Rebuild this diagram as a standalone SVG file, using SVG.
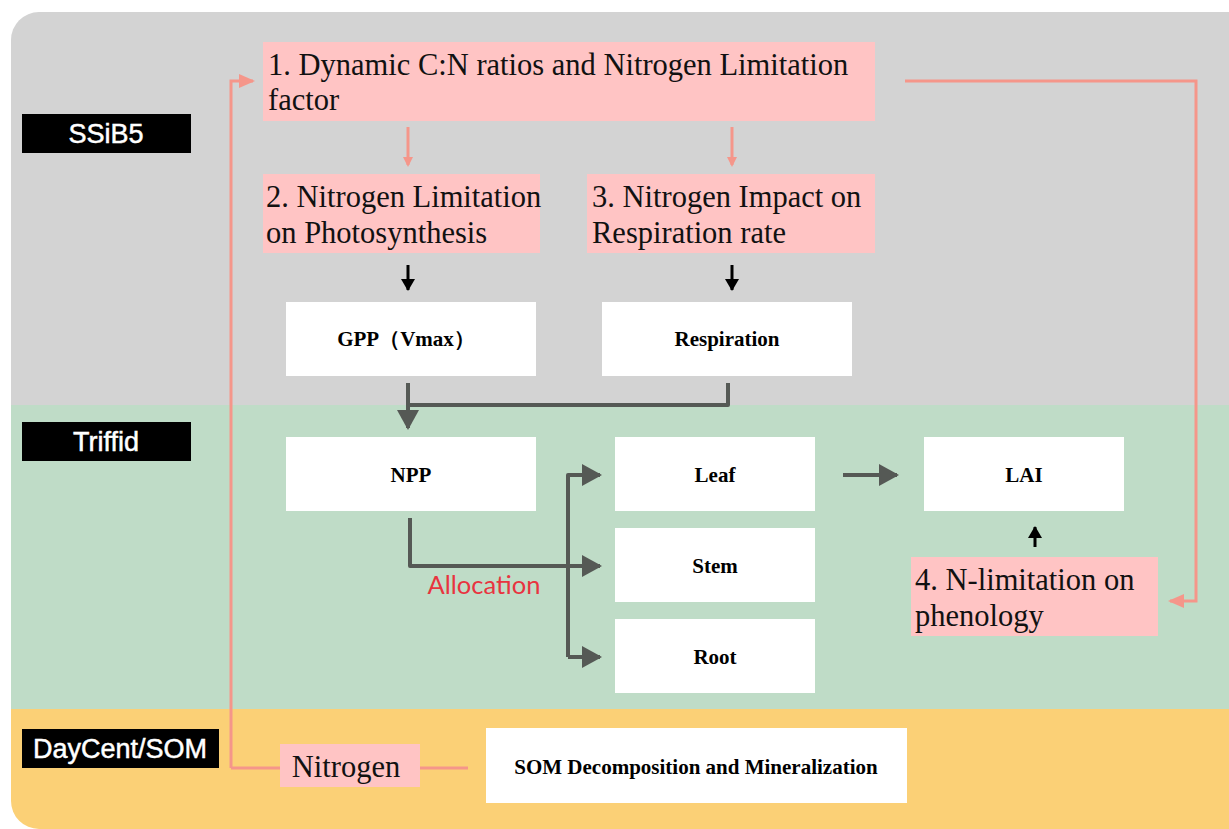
<svg xmlns="http://www.w3.org/2000/svg" width="1229" height="829" viewBox="0 0 1229 829">
<style>
.lab{fill:#000}
.labt{fill:#fff;stroke:#fff;stroke-width:0.5;font-family:"Liberation Sans",Arial,sans-serif;font-size:27px;text-anchor:middle}
.pk{fill:#ffc4c4}
.pkt{font-family:"Liberation Serif","Times New Roman",serif;font-size:30.5px;fill:#111}
.wb{fill:#fff}
.wbt{font-family:"Liberation Serif","Times New Roman",serif;font-size:21px;font-weight:bold;fill:#000;text-anchor:middle}
.pl{fill:none;stroke:#f5968a;stroke-width:3}
.gl{fill:none;stroke:#555955;stroke-width:4;stroke-linejoin:round}
.bl{fill:none;stroke:#000;stroke-width:3}
</style>
<defs>
<clipPath id="frame"><rect x="11" y="12" width="1260" height="817" rx="28"/></clipPath>
<marker id="mp" markerWidth="10" markerHeight="10" refX="8" refY="5" orient="auto" markerUnits="userSpaceOnUse" viewBox="0 0 10 10"><path d="M0,0 L10,5 L0,10 Z" fill="#f5968a"/></marker>
<marker id="mpl" markerWidth="16" markerHeight="14" refX="14" refY="7" orient="auto" markerUnits="userSpaceOnUse" viewBox="0 0 16 14"><path d="M0,0 L16,7 L0,14 Z" fill="#f5968a"/></marker>
<marker id="mb" markerWidth="12" markerHeight="14" refX="11" refY="7" orient="auto" markerUnits="userSpaceOnUse" viewBox="0 0 12 14"><path d="M0,0 L12,7 L0,14 Z" fill="#000"/></marker>
<marker id="mg" markerWidth="20" markerHeight="22" refX="18" refY="11" orient="auto" markerUnits="userSpaceOnUse" viewBox="0 0 20 22"><path d="M0,0 L20,11 L0,22 Z" fill="#555955"/></marker>
</defs>
<g id="background" clip-path="url(#frame)">
<rect x="11" y="12" width="1260" height="393" fill="#d3d3d3"/>
<rect x="11" y="405" width="1260" height="304" fill="#bfdcc7"/>
<rect x="11" y="709" width="1260" height="130" fill="#fbd076"/>
</g>
<g id="label-ssib5"><rect class="lab" x="22" y="114" width="169" height="39"/><text class="labt" x="106" y="143">SSiB5</text></g>
<g id="label-triffid"><rect class="lab" x="22" y="422" width="169" height="39"/><text class="labt" x="106" y="451">Triffid</text></g>
<g id="label-daycent"><rect class="lab" x="22" y="729" width="197" height="39"/><text class="labt" x="120" y="758">DayCent/SOM</text></g>

<g id="connectors">
<path class="pl" d="M231,768 H280"/>
<path class="pl" d="M231,768 V81 H253" marker-end="url(#mpl)"/>
<path class="pl" d="M420,768 H468"/>
<path class="pl" d="M905,81 H1196 V601 H1170" marker-end="url(#mpl)"/>
<path class="pl" d="M408,127 V165" marker-end="url(#mp)" stroke-width="2.5"/>
<path class="pl" d="M732,127 V165" marker-end="url(#mp)" stroke-width="2.5"/>
<path class="bl" d="M408,265 V290" marker-end="url(#mb)"/>
<path class="bl" d="M732,265 V290" marker-end="url(#mb)"/>
<path class="bl" d="M1035,547 V527" marker-end="url(#mb)"/>
<path class="gl" d="M408,383 V428" marker-end="url(#mg)"/>
<path class="gl" d="M728,383 V405 H410"/>
<path class="gl" d="M410,518 V566 H600" marker-end="url(#mg)"/>
<path class="gl" d="M568,657 V475 H600" marker-end="url(#mg)"/>
<path class="gl" d="M568,657 H600" marker-end="url(#mg)"/>
<path class="gl" d="M843,475 H897" marker-end="url(#mg)"/>
<text x="484" y="594" font-family="Lato,'Liberation Sans',sans-serif" font-size="25.5" fill="#e8343f" text-anchor="middle">Allocation</text>
</g>

<g id="n1"><rect class="pk" x="263" y="42" width="612" height="79"/><text class="pkt" x="268" y="75">1. Dynamic C:N ratios and Nitrogen Limitation</text><text class="pkt" x="268" y="110">factor</text></g>
<g id="n2"><rect class="pk" x="263" y="174" width="277" height="79"/><text class="pkt" x="266" y="207">2. Nitrogen Limitation</text><text class="pkt" x="266" y="243">on Photosynthesis</text></g>
<g id="n3"><rect class="pk" x="587" y="174" width="288" height="79"/><text class="pkt" x="592" y="207">3. Nitrogen Impact on</text><text class="pkt" x="592" y="243">Respiration rate</text></g>
<g id="gpp"><rect class="wb" x="286" y="302" width="250" height="74"/><text class="wbt" x="406" y="346">GPP（Vmax）</text></g>
<g id="resp"><rect class="wb" x="602" y="302" width="250" height="74"/><text class="wbt" x="727" y="346">Respiration</text></g>
<g id="npp"><rect class="wb" x="286" y="437" width="250" height="74"/><text class="wbt" x="411" y="482">NPP</text></g>
<g id="leaf"><rect class="wb" x="615" y="437" width="200" height="74"/><text class="wbt" x="715" y="482">Leaf</text></g>
<g id="stem"><rect class="wb" x="615" y="528" width="200" height="74"/><text class="wbt" x="715" y="573">Stem</text></g>
<g id="root"><rect class="wb" x="615" y="619" width="200" height="74"/><text class="wbt" x="715" y="664">Root</text></g>
<g id="lai"><rect class="wb" x="924" y="437" width="200" height="74"/><text class="wbt" x="1024" y="482">LAI</text></g>
<g id="n4"><rect class="pk" x="911" y="557" width="247" height="79"/><text class="pkt" x="915" y="590">4. N-limitation on</text><text class="pkt" x="915" y="626">phenology</text></g>
<g id="nitrogen"><rect class="pk" x="280" y="744" width="140" height="43"/><text class="pkt" x="346" y="777" text-anchor="middle">Nitrogen</text></g>
<g id="som"><rect class="wb" x="486" y="728" width="421" height="75"/><text class="wbt" x="696" y="774">SOM Decomposition and Mineralization</text></g>
</svg>
